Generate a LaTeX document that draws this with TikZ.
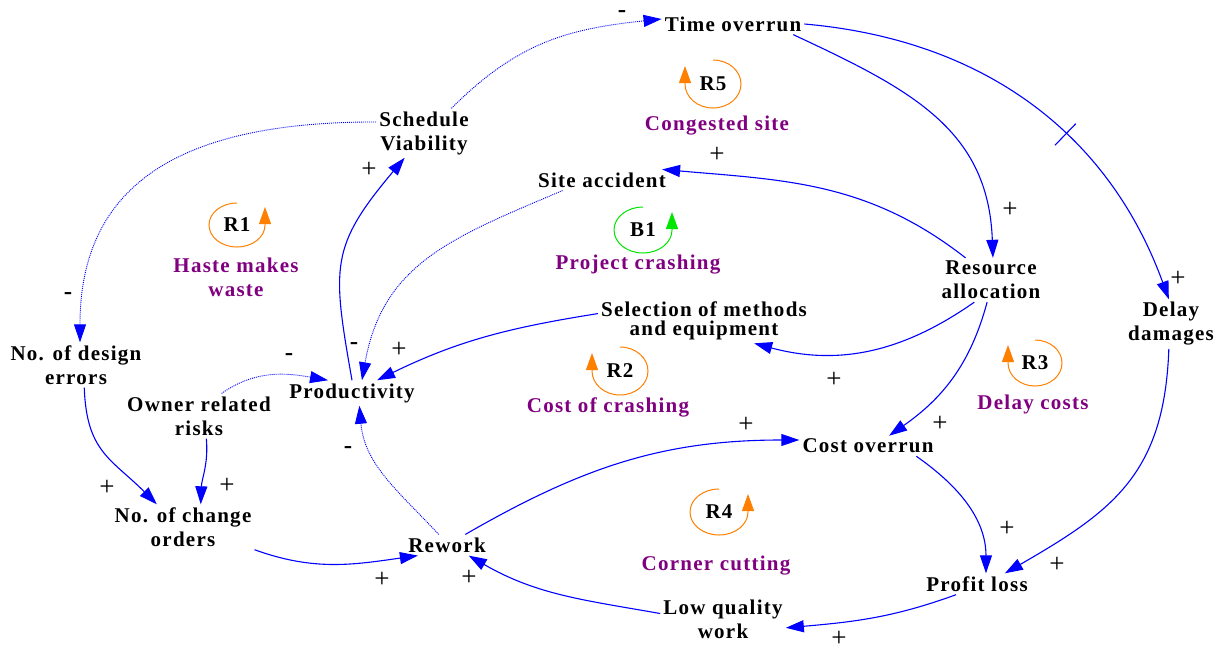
\documentclass[tikz,border=0pt]{standalone}
\usepackage{fontspec}
\setmainfont{Liberation Serif}[LetterSpace=6]
\usetikzlibrary{arrows.meta}
\definecolor{linkblue}{RGB}{0,0,255}
\definecolor{looporange}{RGB}{255,128,0}
\definecolor{loopgreen}{RGB}{0,230,0}
\definecolor{namepurple}{RGB}{128,0,128}
\newcommand{\varfont}{\fontsize{21}{24}\selectfont\bfseries}
\newcommand{\polfont}{\fontsize{27}{28}\selectfont}
\newcommand{\negfont}{\fontsize{25}{26}\selectfont\bfseries}
\begin{document}
\begin{tikzpicture}[x=1pt,y=1pt,
  var/.style={font=\varfont, align=center, inner sep=3pt},
  loopid/.style={font=\varfont, inner sep=0pt},
  loopname/.style={font=\varfont, text=namepurple, align=center, inner sep=0pt},
  pol/.style={font=\polfont, inner sep=0pt},
  neg/.style={font=\negfont, inner sep=0pt},
  link/.style={draw=linkblue, line width=1.1pt, -{Triangle[length=18pt,width=12pt]}},
  weak/.style={link, line width=0.9pt, dash pattern=on 1pt off 1pt},
  loopR/.style={draw=looporange, line width=1pt, -{Triangle[length=17pt,width=12pt]}},
  loopB/.style={loopR, draw=loopgreen},
  delaymark/.style={draw=linkblue, line width=1.1pt, rectangle, minimum width=0pt, minimum height=30pt, inner sep=0pt}
]
\path[use as bounding box] (0,0) rectangle (1220,-654);

% variables
\node[var] (to) at (733,-24) {Time overrun};
\node[var] (sv) at (424,-133) {Schedule\\Viability};
\node[var] (sa) at (602,-180) {Site accident};
\node[var] (ra) at (991,-280) {Resource\\allocation};
\node[var] (dd) at (1171,-324) {Delay\\damages};
\node[var] (sm) at (704,-321) {Selection of methods\\[-5pt]and equipment};
\node[var] (pr) at (352,-393) {Productivity};
\node[var] (de) at (76,-365) {No. of design\\errors};
\node[var] (or) at (199,-416) {Owner related\\risks};
\node[var] (co) at (183,-527) {No. of change\\orders};
\node[var] (rw) at (447,-545) {Rework};
\node[var] (cv) at (868,-446) {Cost overrun};
\node[var] (pl) at (977,-584) {Profit loss};
\node[var] (lq) at (723,-619) {Low quality\\work};

% feedback loop markers
\node[loopid] (r5) at (713,-84) {R5};
\draw[loopR] ([yshift=24pt]r5.center) arc[start angle=90, end angle=-180, x radius=28pt, y radius=24pt] -- ++(0,18);
\node[loopid] (r1) at (237,-225) {R1};
\draw[loopR] ([yshift=22pt]r1.center) arc[start angle=90, end angle=360, x radius=28pt, y radius=22pt] -- ++(0,18);
\node[loopid] (b1) at (643,-230) {B1};
\draw[loopB] ([yshift=23pt]b1.center) arc[start angle=90, end angle=360, x radius=29pt, y radius=23pt] -- ++(0,18);
\node[loopid] (r2) at (620,-371) {R2};
\draw[loopR] ([yshift=24pt]r2.center) arc[start angle=90, end angle=-180, x radius=28pt, y radius=24pt] -- ++(0,18);
\node[loopid] (r3) at (1035,-363) {R3};
\draw[loopR] ([yshift=23pt]r3.center) arc[start angle=90, end angle=-180, x radius=27pt, y radius=23pt] -- ++(0,18);
\node[loopid] (r4) at (719,-512) {R4};
\draw[loopR] ([yshift=23pt]r4.center) arc[start angle=90, end angle=360, x radius=29pt, y radius=23pt] -- ++(0,18);

% loop names
\node[loopname] (n5) at (717,-126) {Congested site};
\node[loopname] (n1) at (236,-277) {Haste makes\\waste};
\node[loopname] (nb1) at (638,-265) {Project crashing};
\node[loopname] (n2) at (608,-407) {Cost of crashing};
\node[loopname] (n3) at (1033,-404) {Delay costs};
\node[loopname] (n4) at (716,-566) {Corner cutting};

% causal links
\draw[weak] (sv.42) to[out=45,in=186,looseness=1.05] (to.176);
\draw[weak] (sv.167) to[out=180,in=90,looseness=1.2] (de.80);
\draw[link] (pr.north) to[out=100,in=230,looseness=1.3] (sv.232);
\draw[weak] (sa.195) to[out=203,in=80,looseness=1.1] (pr.52);
\draw[link] (sm.176) to[out=189,in=26] (pr.27);
\draw[weak] (or.45) to[out=35,in=170] (pr.152);
\draw[weak] (rw.128) to[out=133,in=-85] (pr.300);
\draw[link] (to.-10) to[out=-25,in=92,looseness=1.1] (ra.85);
\draw[link] (to.east) to[out=-5,in=110] node[pos=0.6,sloped,delaymark] (dm) {} (dd.95);
\draw[link] (ra.139) to[out=142,in=-5] (sa.10);
\draw[link] (ra.233) to[out=215,in=-15] (sm.-24);
\draw[link] (ra.260) to[out=255,in=35] (cv.26);
\draw[link] (dd.265) to[out=268,in=30,looseness=1.15] (pl.21);
\draw[link] (cv.-12) to[out=-35,in=90] (pl.50);
\draw[link] (pl.207) to[out=200,in=5] (lq.-8);
\draw[link] (lq.175) to[out=170,in=-30] (rw.-26);
\draw[link] (rw.30) to[out=30,in=180] (cv.175);
\draw[link] (co.south east) to[out=-20,in=188] (rw.200);
\draw[link] (de.-70) to[out=-88,in=135,looseness=1.2] (co.139);
\draw[link] (or.-72) to[out=-85,in=88] (co.52);

% link polarities
\node[neg] (m1) at (622,-14) {-};
\node[neg] (m2) at (68,-296) {-};
\node[neg] (m3) at (354,-346) {-};
\node[neg] (m4) at (289,-357) {-};
\node[neg] (m5) at (348,-450) {-};
\node[pol] (p1) at (369,-170) {+};
\node[pol] (p2) at (717,-155) {+};
\node[pol] (p3) at (399,-350) {+};
\node[pol] (p4) at (1010,-210) {+};
\node[pol] (p5) at (1178,-279) {+};
\node[pol] (p6) at (834,-380) {+};
\node[pol] (p7) at (940,-424) {+};
\node[pol] (p8) at (746,-425) {+};
\node[pol] (p9) at (1007,-529) {+};
\node[pol] (p10) at (1057,-565) {+};
\node[pol] (p11) at (839,-639) {+};
\node[pol] (p12) at (469,-578) {+};
\node[pol] (p13) at (382,-580) {+};
\node[pol] (p14) at (107,-488) {+};
\node[pol] (p15) at (227,-486) {+};
\end{tikzpicture}
\end{document}
